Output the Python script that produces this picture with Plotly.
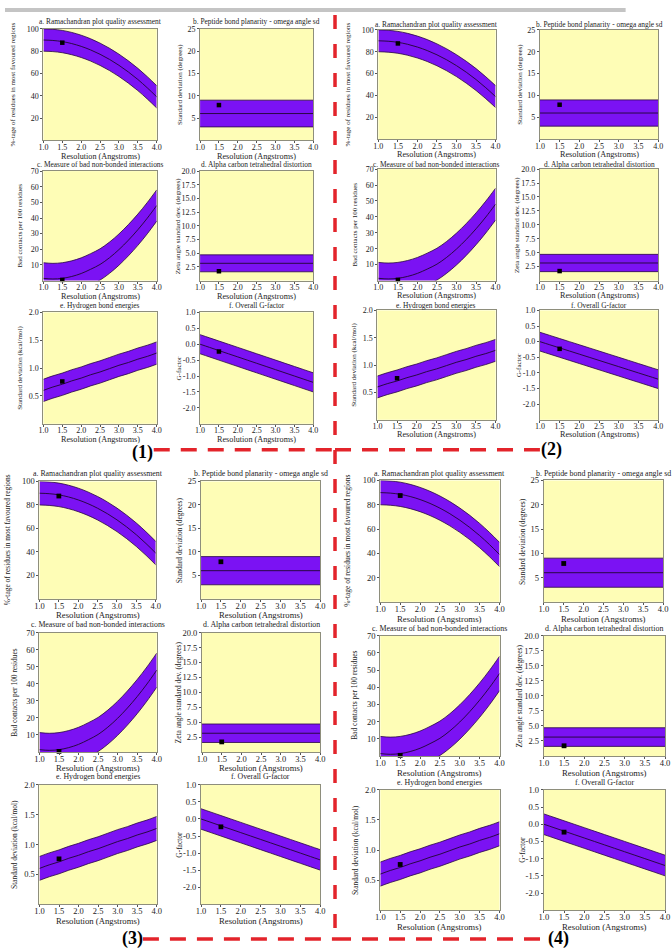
import plotly.graph_objects as go

W, H = 672, 949

# ---------------- data ----------------
resolution = [1.0, 1.25, 1.5, 1.75, 2.0, 2.25, 2.5, 2.75, 3.0, 3.25, 3.5, 3.75, 4.0]
res_ends = [1.0, 4.0]

rama_mean = [90.0, 89.6, 88.6, 86.8, 84.3, 81.1, 77.2, 72.6, 67.3, 61.3, 54.6, 47.1, 39.0]
rama_sd = 10.0
rama_point = [1.5, 87.6]

omega_mean = [6.0, 6.0]
omega_sd = 3.0
omega_point = [1.5, 7.9]

badc_mean = [1.4, 1.0, 1.4, 2.6, 4.5, 7.2, 10.3, 14.6, 19.8, 25.8, 32.5, 39.9, 48.0]
badc_sd = 10.0
badc_point = [1.5, 0.4]

zeta_mean = [3.15, 3.15]
zeta_sd = 1.55
zeta_point = [1.5, 1.7]

hbond_mean = [0.60, 0.66, 0.71, 0.77, 0.82, 0.88, 0.93, 0.99, 1.05, 1.10, 1.16, 1.21, 1.27]
hbond_sd = 0.2
hbond_point = [1.5, 0.76]

gfac_mean = [0.00, -0.10, -0.20, -0.30, -0.40, -0.50, -0.60, -0.70, -0.80, -0.90, -1.00, -1.10, -1.20]
gfac_sd = 0.3
gfac_point = [1.5, -0.23]

x_ticks = [1.0, 1.5, 2.0, 2.5, 3.0, 3.5, 4.0]
x_ticktext = ["1.0", "1.5", "2.0", "2.5", "3.0", "3.5", "4.0"]

charts = [
    dict(title="a. Ramachandran plot quality assessment",
         ytitle="%-tage of residues in most favoured regions",
         x=resolution, mean=rama_mean, sd=rama_sd, pt=rama_point, yr=[0, 100],
         yt=[20, 40, 60, 80, 100], ytt=["20", "40", "60", "80", "100"], yoff=31),
    dict(title="b. Peptide bond planarity - omega angle sd",
         ytitle="Standard deviation (degrees)",
         x=res_ends, mean=omega_mean, sd=omega_sd, pt=omega_point, yr=[0, 25],
         yt=[5, 10, 15, 20, 25], ytt=["5", "10", "15", "20", "25"], yoff=21),
    dict(title="c. Measure of bad non-bonded interactions",
         ytitle="Bad contacts per 100 residues",
         x=resolution, mean=badc_mean, sd=badc_sd, pt=badc_point, yr=[0, 70],
         yt=[10, 20, 30, 40, 50, 60, 70], ytt=["10", "20", "30", "40", "50", "60", "70"], yoff=24),
    dict(title="d. Alpha carbon tetrahedral distortion",
         ytitle="Zeta angle standard dev. (degrees)",
         x=res_ends, mean=zeta_mean, sd=zeta_sd, pt=zeta_point, yr=[0, 20],
         yt=[2.5, 5, 7.5, 10, 12.5, 15, 17.5, 20],
         ytt=["2.5", "5.0", "7.5", "10.0", "12.5", "15.0", "17.5", "20.0"], yoff=23),
    dict(title="e. Hydrogen bond energies",
         ytitle="Standard deviation (kcal/mol)",
         x=resolution, mean=hbond_mean, sd=hbond_sd, pt=hbond_point, yr=[0, 2],
         yt=[0.5, 1.0, 1.5, 2.0], ytt=["0.5", "1.0", "1.5", "2.0"], yoff=24),
    dict(title="f. Overall G-factor",
         ytitle="G-factor",
         x=resolution, mean=gfac_mean, sd=gfac_sd, pt=gfac_point, yr=[-2.5, 1.0],
         yt=[-2.0, -1.5, -1.0, -0.5, 0.0, 0.5, 1.0],
         ytt=["-2.0", "-1.5", "-1.0", "-0.5", "0.0", "0.5", "1.0"], yoff=21),
]

# plot rectangles (left, right, top, bottom) in pixels, per panel
panels = [
    dict(label="(1)", lab=(140, 450), s=1.0, toff=7, xoff=16,
         rects=[(39, 154, 24, 136), (198, 313, 24, 136), (39, 154, 167, 277),
                (198, 313, 167, 277), (39, 154, 309, 421), (198, 313, 309, 421)]),
    dict(label="(2)", lab=(555, 447), s=1.0, toff=5, xoff=15,
         rects=[(379, 498, 25, 135), (543, 663, 25, 135), (379, 498, 165, 277),
                (543, 663, 165, 277), (378, 498, 307, 417), (543, 663, 307, 417)]),
    dict(label="(3)", lab=(129, 938), s=1.06, toff=8, xoff=15.5,
         rects=[(35, 153, 479, 597), (199, 320, 479, 597), (35, 154, 631, 751),
                (200, 320, 631, 751), (35, 154, 784, 904), (199, 320, 784, 904)]),
    dict(label="(4)", lab=(562, 938), s=1.07, toff=7, xoff=16,
         rects=[(381, 502, 478, 600), (547, 668, 478, 600), (381, 502, 634, 755),
                (547, 670, 634, 755), (381, 502, 789, 910), (547, 670, 789, 910)]),
]

PURPLE = "#7b12f3"
EDGE = "#2a0845"
YELLOW = "#fefdb6"
FRAME = "#8e8e7c"
TXT = "#222222"
FONT = "Liberation Serif"


def px(x):
    return x / W


def py(y):
    return 1 - y / H


fig = go.Figure()
layout = dict(width=W, height=H, margin=dict(l=0, r=0, t=0, b=0),
              paper_bgcolor="white", plot_bgcolor=YELLOW, showlegend=False)
annotations = []
shapes = []

n = 0
for p in panels:
    s = p["s"]
    for ch, (l, r, t, b) in zip(charts, p["rects"]):
        n += 1
        xa = "x" if n == 1 else f"x{n}"
        ya = "y" if n == 1 else f"y{n}"
        lower = [m - ch["sd"] for m in ch["mean"]]
        upper = [m + ch["sd"] for m in ch["mean"]]
        shape = "spline" if len(ch["x"]) > 2 else "linear"
        fig.add_trace(go.Scatter(x=ch["x"], y=lower, mode="lines", xaxis=xa, yaxis=ya,
                                 line=dict(color=EDGE, width=0.8, shape=shape), hoverinfo="skip"))
        fig.add_trace(go.Scatter(x=ch["x"], y=upper, mode="lines", xaxis=xa, yaxis=ya,
                                 fill="tonexty", fillcolor=PURPLE,
                                 line=dict(color=EDGE, width=0.8, shape=shape), hoverinfo="skip"))
        fig.add_trace(go.Scatter(x=ch["x"], y=ch["mean"], mode="lines", xaxis=xa, yaxis=ya,
                                 line=dict(color=EDGE, width=1.0, shape=shape), hoverinfo="skip"))
        fig.add_trace(go.Scatter(x=[ch["pt"][0]], y=[ch["pt"][1]], mode="markers", xaxis=xa, yaxis=ya,
                                 marker=dict(symbol="square", size=4.5 * s, color="black"),
                                 cliponaxis=False))
        axcommon = dict(showgrid=False, zeroline=False, showline=True, mirror=True,
                        linecolor=FRAME, linewidth=1, ticks="outside", ticklen=2,
                        tickcolor="#555555", tickwidth=1,
                        tickfont=dict(family=FONT, size=8 * s, color=TXT), fixedrange=True)
        layout["xaxis" if n == 1 else f"xaxis{n}"] = dict(
            axcommon, domain=[px(l), px(r)], range=[1.0, 4.0], anchor=ya,
            tickmode="array", tickvals=x_ticks, ticktext=x_ticktext, ticklabelstandoff=-3)
        layout["yaxis" if n == 1 else f"yaxis{n}"] = dict(
            axcommon, domain=[py(b), py(t)], range=ch["yr"], anchor=xa,
            tickmode="array", tickvals=ch["yt"], ticktext=ch["ytt"])
        cx = (l + r) / 2
        annotations.append(dict(x=px(cx), y=py(t - p["toff"] * s), xref="paper", yref="paper",
                                text=ch["title"], showarrow=False, xanchor="center",
                                yanchor="middle", font=dict(family=FONT, size=7.4 * s, color=TXT)))
        annotations.append(dict(x=px(cx), y=py(b + p["xoff"] * s), xref="paper", yref="paper",
                                text="Resolution (Angstroms)", showarrow=False, xanchor="center",
                                yanchor="middle", font=dict(family=FONT, size=8.2 * s, color=TXT)))
        annotations.append(dict(x=px(l - ch["yoff"] * s), y=py((t + b) / 2), xref="paper",
                                yref="paper", text=ch["ytitle"], showarrow=False, textangle=-90,
                                xanchor="center", yanchor="middle",
                                font=dict(family=FONT, size=7 * s, color=TXT)))
    lx, ly = p["lab"]
    annotations.append(dict(x=px(lx), y=py(ly), xref="paper", yref="paper", text="<b>" + p["label"] + "</b>",
                            showarrow=False, xanchor="center", yanchor="middle",
                            font=dict(family=FONT, size=18, color="black")))

RED = "#e3242b"
# vertical divider
shapes.append(dict(type="line", xref="paper", yref="paper", x0=px(335), x1=px(335),
                   y0=py(10), y1=py(940), line=dict(color=RED, width=3.5, dash="14px,15px")))
# horizontal connectors
for x0, x1, y in [(151, 335, 447), (335, 543, 447), (140, 335, 939), (335, 550, 939)]:
    shapes.append(dict(type="line", xref="paper", yref="paper", x0=px(x0), x1=px(x1),
                       y0=py(y), y1=py(y), line=dict(color=RED, width=3.5, dash="16px,11px")))
# grey strip at the top
shapes.append(dict(type="rect", xref="paper", yref="paper", x0=0, x1=px(630), y0=py(7), y1=py(3),
                   fillcolor="#c4c4c4", line=dict(width=0), layer="below"))

layout["annotations"] = annotations
layout["shapes"] = shapes
fig.update_layout(**layout)

post = ("document.body.style.margin='0';document.body.style.padding='0';"
        "var d=document.getElementById('{plot_id}');"
        "d.style.position='fixed';d.style.left='0px';d.style.top='0px';")
fig.write_html("out.html", post_script=post, config={"displayModeBar": False})
